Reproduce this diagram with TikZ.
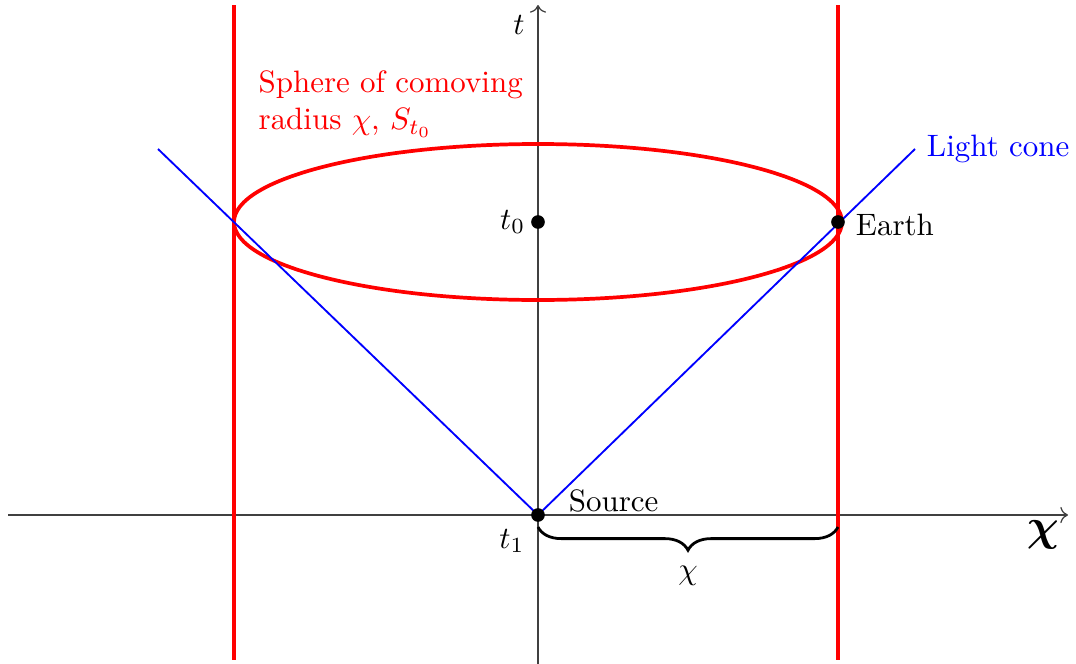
\documentclass[tikz,border=0pt]{standalone}
\usepackage{amsmath,bm}
\usetikzlibrary{decorations.pathreplacing,arrows.meta}
\begin{document}
\begin{tikzpicture}[x=0.01136cm,y=-0.01136cm,
  axis/.style={draw=black!75,line width=0.4pt,->},
  dot/.style={circle,fill=black,inner sep=0pt,minimum size=4.4pt},
  redline/.style={draw=red,line width=1pt},
  cone/.style={draw=blue,line width=0.6pt}]
\useasboundingbox (0,0) rectangle (1076,664);
% coordinates
\coordinate (xl) at (8,515);
\coordinate (xr) at (1068,515);
\coordinate (tb) at (538,664);
\coordinate (tt) at (538,5);
\coordinate (L1) at (234,5);
\coordinate (L2) at (234,660);
\coordinate (R1) at (838,5);
\coordinate (R2) at (838,660);
\coordinate (cl) at (158,149);
\coordinate (cr) at (915,149);
\coordinate (O) at (538,515);
\coordinate (T0) at (538,222);
\coordinate (E) at (838,222);
\coordinate (bl) at (538,527);
\coordinate (br) at (838,527);
% axes
\draw[axis] (xl) -- (xr);
\draw[axis] (tb) -- (tt);
\node (tlab) at (519,25) {$t$};
\node (xlab) at (1043,535) {\Large$\bm{\chi}$};
% red verticals
\draw[redline] (L1) -- (L2);
\draw[redline] (R1) -- (R2);
% ellipse
\draw[red,line width=1.2pt] (T0) ellipse [x radius=304, y radius=78];
% light cone
\draw[cone] (cl) -- (O) -- (cr);
% dots
\node[dot] (t0) at (T0) {};
\node[dot] (src) at (O) {};
\node[dot] (earth) at (E) {};
% labels
\node[anchor=east,inner sep=1.5pt] (t0lab) at (t0.west) {$t_0$};
\node (t1lab) at (512,541) {$t_1$};
\node[anchor=west] (srclab) at (558,501) {Source};
\node[anchor=west] (earthlab) at (845,225) {Earth};
\node[anchor=west,text=blue] (conelab) at (916,149) {Light cone};
\node[anchor=north west,text=red,align=left,inner sep=0pt] (sphlab) at (258,70)
  {Sphere of comoving\\radius $\chi$, $S_{t_0}$};
% brace
\draw[line width=0.9pt,decorate,decoration={brace,mirror,amplitude=7.5pt}] (bl) -- (br)
  node[midway,below=9pt] (chilab) {$\chi$};
\end{tikzpicture}
\end{document}
